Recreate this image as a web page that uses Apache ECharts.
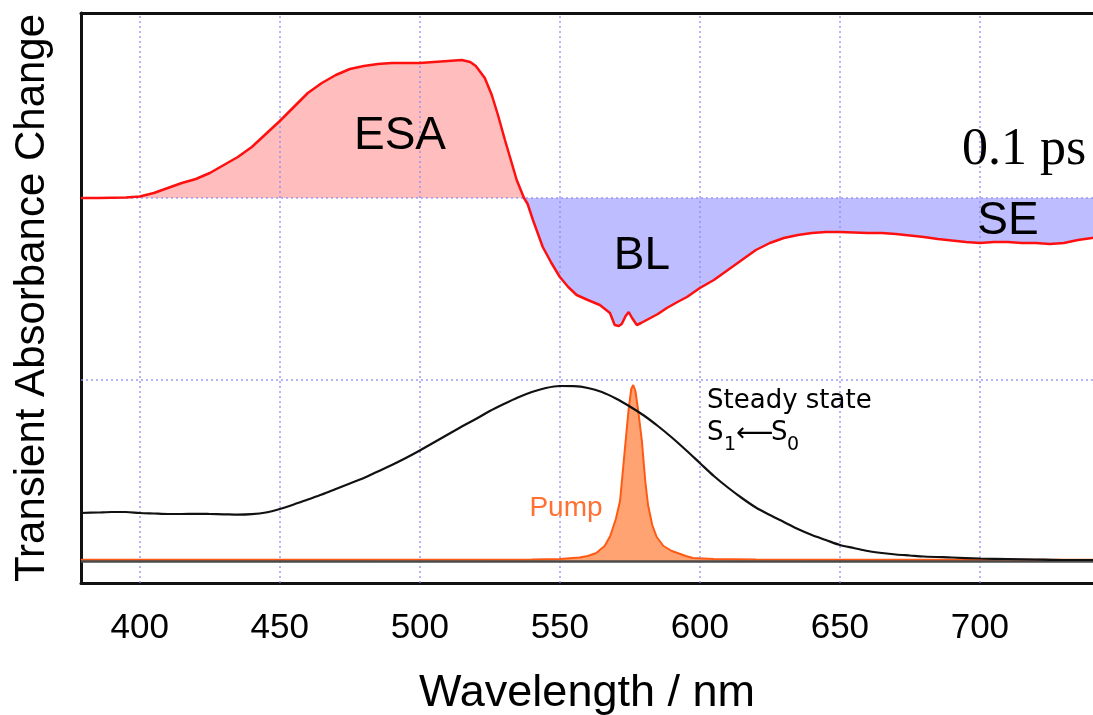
<!DOCTYPE html>
<html>
<head>
<meta charset="utf-8">
<script src="https://cdn.jsdelivr.net/npm/echarts@6/dist/echarts.min.js"></script>
<style>html,body{margin:0;padding:0;background:#fff}#c{width:1093px;height:715px}</style>
</head>
<body>
<div id="c"></div>
<script>
// ---- data (arbitrary absorbance units) ----
const xTicks = [400, 450, 500, 550, 600, 650, 700];

// transient spectrum at 0.1 ps (ΔA, zero baseline)
const transientWl = [379,385,390,395,400,405,410,415,420,425,430,435,440,445,450,455,460,465,470,475,480,485,490,495,500,505,510,515,518,520,523.2,525.7,527.9,530.4,532.5,534.6,537.2,538.5,540.4,543.9,547,550,553,556,560,564.3,567.9,569.6,571,572.1,573.5,574.6,575.8,577.5,579,581,585,588.2,592,595.4,600,605,610,615,620,625,630,635,640,645,650,655,660,665,670,675,680,685,690,695,700,705,710,715,720,725,730,735,740,742.2];
const transientDA = [0,0,0.003,0.006,0.015,0.05,0.10,0.15,0.19,0.25,0.33,0.41,0.51,0.64,0.77,0.91,1.05,1.15,1.23,1.29,1.32,1.34,1.35,1.35,1.35,1.36,1.37,1.38,1.36,1.32,1.20,1.03,0.83,0.58,0.38,0.18,0,-0.06,-0.22,-0.49,-0.65,-0.79,-0.89,-0.97,-1.02,-1.07,-1.15,-1.27,-1.28,-1.26,-1.18,-1.14,-1.20,-1.27,-1.25,-1.22,-1.16,-1.10,-1.04,-0.99,-0.90,-0.82,-0.72,-0.62,-0.52,-0.45,-0.40,-0.37,-0.35,-0.34,-0.34,-0.345,-0.35,-0.35,-0.36,-0.375,-0.39,-0.41,-0.425,-0.44,-0.45,-0.44,-0.44,-0.45,-0.45,-0.46,-0.45,-0.42,-0.40,-0.39];

// steady state absorption S1<-S0
const steadyWl = [379,385,390,395,400,405,410,415,420,425,430,435,440,445,450,455,460,465,470,475,480,485,490,495,500,505,510,515,520,525,530,535,540,545,550,555,560,565,570,575,580,585,590,595,600,605,610,615,620,625,630,635,640,645,650,655,660,665,670,675,680,690,700,710,720,730,742];
const steadyAbs = [0.48,0.485,0.49,0.49,0.48,0.475,0.47,0.47,0.472,0.47,0.467,0.463,0.468,0.485,0.52,0.565,0.615,0.665,0.72,0.775,0.83,0.895,0.96,1.03,1.105,1.185,1.265,1.345,1.42,1.50,1.57,1.635,1.69,1.73,1.75,1.748,1.73,1.69,1.625,1.545,1.455,1.35,1.235,1.11,0.98,0.85,0.735,0.63,0.535,0.46,0.39,0.32,0.26,0.21,0.16,0.13,0.10,0.08,0.065,0.055,0.045,0.035,0.025,0.02,0.015,0.01,0.01];

// pump pulse spectrum
const pumpWl = [379,450,540,550,557,560,563,566,568,570,571.5,573,574.5,575.5,576.2,577,578,579.3,580.5,581.5,583,584.6,587,590,592,595,597.5,605,620,650,700,742];
const pumpInt = [0.012,0.012,0.015,0.02,0.035,0.05,0.08,0.15,0.25,0.42,0.6,1.05,1.5,1.72,1.76,1.7,1.5,1.2,0.8,0.56,0.36,0.24,0.15,0.1,0.08,0.05,0.03,0.02,0.015,0.012,0.012,0.012];

// ---- layout constants ----
const STEADY_OFFSET = -3.63;   // baseline of lower panel
const MID_LINE = -1.82;        // dotted separator

const zip = (a, b, off) => a.map((x, i) => [x, b[i] + (off || 0)]);

const chart = echarts.init(document.getElementById('c'), null, {renderer: 'canvas'});
const gridColor = '#8c8cf2';
const frame = {show: true, onZero: false, lineStyle: {color: '#111', width: 3}};

const option = {
  animation: false,
  grid: {left: 81, top: 13, right: 0, bottom: 132, outerBoundsMode: 'none', containLabel: false},
  xAxis: [{
    type: 'value', min: 379, max: 740.4, position: 'bottom',
    axisLine: frame, axisTick: {show: false}, splitLine: {show: false},
    axisLabel: {customValues: xTicks, fontFamily: 'Liberation Sans', fontSize: 35, color: '#000', margin: 28},
    name: 'Wavelength / nm', nameLocation: 'middle', nameGap: 88,
    nameTextStyle: {fontFamily: 'Liberation Sans', fontSize: 45, color: '#000'}
  }, {
    type: 'value', min: 379, max: 740.4, position: 'top',
    axisLine: frame, axisTick: {show: false}, splitLine: {show: false}, axisLabel: {show: false}
  }],
  yAxis: {
    type: 'value', min: -3.85, max: 1.85,
    axisLine: frame, axisTick: {show: false}, splitLine: {show: false}, axisLabel: {show: false},
    name: 'Transient Absorbance Change', nameLocation: 'middle', nameGap: 28,
    nameTextStyle: {fontFamily: 'Liberation Sans', fontSize: 42, color: '#000'}
  },
  series: [
    {
      name: 'grid', type: 'line', data: [], z: 1, silent: true,
      markLine: {
        silent: true, symbol: 'none', animation: false,
        label: {show: false},
        lineStyle: {color: gridColor, type: [2, 3], width: 1.5, opacity: 0.85},
        data: xTicks.map(v => ({xAxis: v})).concat([{yAxis: 0}, {yAxis: MID_LINE}])
      }
    },
    {
      name: 'ESA', type: 'line', z: 2, symbol: 'none', silent: true,
      data: transientWl.map((x, i) => [x, Math.max(transientDA[i], 0)]),
      lineStyle: {width: 0}, areaStyle: {color: '#ffbdbd', opacity: 1, origin: 0}
    },
    {
      name: 'BL', type: 'line', z: 2, symbol: 'none', silent: true,
      data: transientWl.map((x, i) => [x, Math.min(transientDA[i], 0)]),
      lineStyle: {width: 0}, areaStyle: {color: '#bdbdff', opacity: 1, origin: 0}
    },
    {
      name: 'transient', type: 'line', z: 6, symbol: 'none', silent: true,
      data: zip(transientWl, transientDA),
      lineStyle: {color: '#ff1010', width: 2.5}
    },
    {
      name: 'baseline', type: 'line', data: [], z: 3, silent: true,
      markLine: {
        silent: true, symbol: 'none', label: {show: false},
        lineStyle: {color: '#4a4a4a', type: 'solid', width: 2.5},
        data: [{yAxis: STEADY_OFFSET}]
      }
    },
    {
      name: 'pump', type: 'line', z: 4, symbol: 'none', silent: true,
      data: zip(pumpWl, pumpInt, STEADY_OFFSET),
      lineStyle: {color: '#ff5a14', width: 2},
      areaStyle: {color: '#ffa373', opacity: 1, origin: STEADY_OFFSET}
    },
    {
      name: 'steady', type: 'line', z: 5, symbol: 'none', silent: true, smooth: 0.3,
      data: zip(steadyWl, steadyAbs, STEADY_OFFSET),
      lineStyle: {color: '#111', width: 2.2}
    }
  ],
  graphic: []
};

function txt(text, x, y, font, color, align) {
  return {
    type: 'text', x: x, y: y, z: 100, silent: true,
    style: {text: text, font: font, fill: color || '#000',
      align: align || 'center', verticalAlign: 'middle',
      textAlign: align || 'center', textVerticalAlign: 'middle'}
  };
}
option.graphic = [
  txt('ESA', 400, 136, '46px "Liberation Sans"'),
  txt('BL', 642, 256, '46px "Liberation Sans"'),
  txt('SE', 1008, 221, '46px "Liberation Sans"'),
  txt('0.1 ps', 1024, 150, '52px "Liberation Serif"'),
  txt('Steady state', 707, 401, '26px "DejaVu Sans"', '#000', 'left'),
  txt('S', 707, 433, '26px "DejaVu Sans"', '#000', 'left'),
  txt('1', 724, 445, '19px "DejaVu Sans"', '#000', 'left'),
  txt('\u27F5', 736, 434, '26px "DejaVu Sans"', '#000', 'left'),
  txt('S', 771, 433, '26px "DejaVu Sans"', '#000', 'left'),
  txt('0', 787, 445, '19px "DejaVu Sans"', '#000', 'left'),
  txt('Pump', 566, 508, '28px "Liberation Sans"', '#ff7033')
];

chart.setOption(option);
</script>
</body>
</html>
